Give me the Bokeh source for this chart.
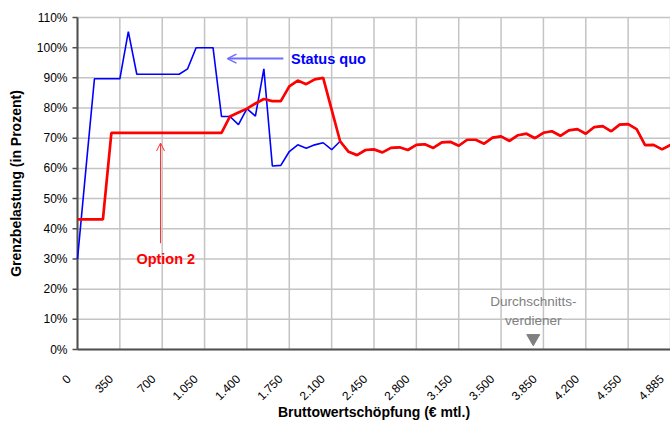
import math
from bokeh.plotting import figure
from bokeh.models import Arrow, OpenHead, Range1d
from bokeh.core.properties import value
from bokeh.embed import file_html
from bokeh.resources import INLINE

# Categories: gross value added (EUR per month)
income = [0, 70, 140, 210, 280, 350, 420, 490, 560, 630, 700, 770, 840, 910, 980,
          1050, 1120, 1190, 1260, 1330, 1400, 1470, 1540, 1610, 1680, 1750, 1820,
          1890, 1960, 2030, 2100, 2170, 2240, 2310, 2380, 2450, 2520, 2590, 2660,
          2730, 2800, 2870, 2940, 3010, 3080, 3150, 3220, 3290, 3360, 3430, 3500,
          3570, 3640, 3710, 3780, 3850, 3920, 3990, 4060, 4130, 4200, 4270, 4340,
          4410, 4480, 4550, 4620, 4690, 4760, 4830, 4885]

# Marginal burden in percent
status_quo = [30.0, 60.0, 89.7, 89.7, 89.7, 89.7, 105.3, 91.2, 91.2, 91.2, 91.2,
              91.2, 91.2, 93.0, 100.0, 100.0, 100.0, 77.2, 77.2, 74.5, 79.8, 77.3,
              93.0, 60.8, 61.0, 65.6, 67.8, 66.7, 67.8, 68.5, 66.2, 69.0, 65.5,
              64.4, 66.1, 66.3, 65.3, 66.8, 67.0, 66.1, 67.8, 68.0, 66.8, 68.6,
              68.8, 67.5, 69.5, 69.5, 68.2, 70.2, 70.6, 69.1, 71.0, 71.5, 70.0,
              71.8, 72.3, 70.8, 72.6, 73.0, 71.5, 73.7, 74.0, 72.3, 74.5, 74.7,
              73.0, 67.7, 67.8, 66.3, 67.8]

option2 = [43.1, 43.1, 43.1, 43.1, 71.8, 71.8, 71.8, 71.8, 71.8, 71.8, 71.8, 71.8,
           71.8, 71.8, 71.8, 71.8, 71.8, 71.8, 77.2, 78.5, 79.8, 81.5, 83.0, 82.3,
           82.3, 87.2, 89.1, 87.9, 89.5, 90.0, 79.5, 69.0, 65.5, 64.4, 66.1, 66.3,
           65.3, 66.8, 67.0, 66.1, 67.8, 68.0, 66.8, 68.6, 68.8, 67.5, 69.5, 69.5,
           68.2, 70.2, 70.6, 69.1, 71.0, 71.5, 70.0, 71.8, 72.3, 70.8, 72.6, 73.0,
           71.5, 73.7, 74.0, 72.3, 74.5, 74.7, 73.0, 67.7, 67.8, 66.3, 67.8]

x_tick_labels = ["0", "350", "700", "1.050", "1.400", "1.750", "2.100", "2.450",
                 "2.800", "3.150", "3.500", "3.850", "4.200", "4.550", "4.885"]
y_ticks = [0, 10, 20, 30, 40, 50, 60, 70, 80, 90, 100, 110]
y_tick_labels = ["0%", "10%", "20%", "30%", "40%", "50%", "60%", "70%", "80%",
                 "90%", "100%", "110%"]

x_title = "Bruttowertschöpfung (€ mtl.)"
y_title = "Grenzbelastung (in Prozent)"

idx = list(range(len(income)))
label_every = 5
x_tick_pos = idx[::label_every]
n_max = idx[-1]
y_max = y_ticks[-1]

# ---- layout (pixels) ----
FONT = "Liberation Sans"
W, H = 670, 423
PLOT_L, PLOT_T, PLOT_B = 77, 17, 349          # plot-area edges on the canvas
ppc = (W - PLOT_L) / n_max                      # px per category
ppp = (PLOT_B - PLOT_T) / y_max                 # px per percent
def dx(px):   # pixel offset -> category units
    return px / ppc
def dy(px):   # pixel offset (downwards) -> percent units
    return -px / ppp

# The frame covers the whole canvas so that tick labels and titles (drawn as
# text in data space) are not clipped; the plot area is 0..n_max x 0..y_max.
p = figure(width=W, height=H, output_backend="svg", toolbar_location=None,
           x_axis_location=None, y_axis_location=None,
           x_range=Range1d(dx(-PLOT_L), n_max),
           y_range=Range1d(dy(H - PLOT_B), y_max + PLOT_T / ppp),
           min_border=0, min_border_left=0, min_border_right=0,
           min_border_top=0, min_border_bottom=0)
p.grid.visible = False
p.outline_line_color = None
p.background_fill_color = "white"
p.border_fill_color = "white"

GRID = "#c4c4c4"
AXIS = "#505050"

# gridlines
p.segment(x0=[0] * len(y_ticks), y0=y_ticks, x1=[n_max] * len(y_ticks), y1=y_ticks,
          line_color=GRID, line_width=1.5)
p.segment(x0=x_tick_pos, y0=[0] * len(x_tick_pos), x1=x_tick_pos,
          y1=[y_max] * len(x_tick_pos), line_color=GRID, line_width=1.5)

# axis lines and y tick marks
p.segment(x0=[0, 0], y0=[0, 0], x1=[n_max, 0], y1=[0, y_max],
          line_color=AXIS, line_width=2)
p.segment(x0=[dx(-5)] * len(y_ticks), y0=y_ticks, x1=[0] * len(y_ticks), y1=y_ticks,
          line_color=AXIS, line_width=1.5)

# y tick labels
p.text(x=[dx(-10)] * len(y_ticks), y=y_ticks, text=y_tick_labels,
       text_align="right", text_baseline="middle", text_font=value(FONT),
       text_font_size="12px", text_color="black")

# x tick labels: rotated 45 deg, ending just left of the category tick
p.text(x=[t + dx(-9) for t in x_tick_pos], y=[dy(27)] * len(x_tick_pos),
       text=x_tick_labels, angle=45, angle_units="deg", text_align="right",
       text_baseline="middle", text_font=value(FONT), text_font_size="12px",
       text_color="black")

# axis titles
p.text(x=[n_max / 2], y=[dy(62)], text=[x_title], text_align="center",
       text_baseline="middle", text_font=value(FONT), text_font_size="14px",
       text_font_style="bold", text_color="black")
p.text(x=[dx(15 - PLOT_L)], y=[y_max / 2], text=[y_title], angle=90,
       angle_units="deg", text_align="center", text_baseline="middle",
       text_font=value(FONT), text_font_size="14px", text_font_style="bold",
       text_color="black")

# series
p.line(idx, status_quo, line_color="#0000ff", line_width=1.6)
p.line(idx, option2, line_color="#ff0000", line_width=2.7)

# annotations
p.add_layout(Arrow(end=OpenHead(size=9, line_color="#6e6eff", line_width=1.5),
                   x_start=24.3, y_start=96.4, x_end=17.7, y_end=96.4,
                   line_color="#6e6eff", line_width=2))
p.text(x=[25.2], y=[96.4], text=["Status quo"], text_baseline="middle",
       text_font=value(FONT), text_font_size="14.5px", text_font_style="bold",
       text_color="#0000ff")

p.add_layout(Arrow(end=OpenHead(size=8, line_color="#ff3030", line_width=1),
                   x_start=9.8, y_start=35.2, x_end=9.8, y_end=68.4,
                   line_color="#ff3030", line_width=1))
p.text(x=[6.95], y=[29.9], text=["Option 2"], text_baseline="middle",
       text_font=value(FONT), text_font_size="14.5px", text_font_style="bold",
       text_color="#ff0000")

avg_x = 53.8
p.text(x=[avg_x, avg_x], y=[15.8, 9.5], text=["Durchschnitts-", "verdiener"],
       text_align="center", text_baseline="middle", text_font=value(FONT),
       text_font_size="13.5px", text_color="#808080")
p.scatter([avg_x], [3.7], marker="inverted_triangle", size=13,
          fill_color="#808080", line_color="#808080")

open("out.html", "w").write(file_html(p, INLINE))
